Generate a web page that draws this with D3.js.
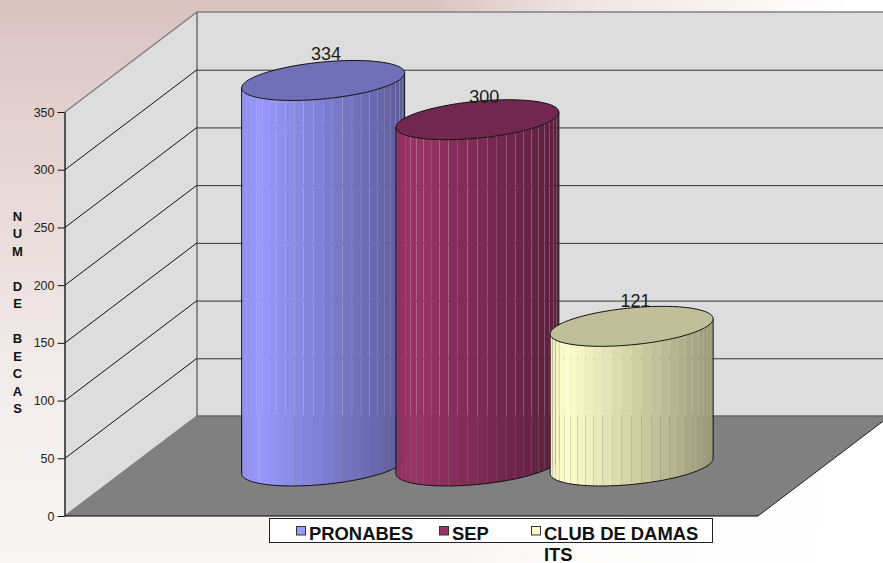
<!DOCTYPE html>
<html>
<head>
<meta charset="utf-8">
<script src="https://cdn.jsdelivr.net/npm/d3@7"></script>
<style>
  html, body { margin: 0; padding: 0; background: #fff; }
  svg { display: block; font-family: "Liberation Sans", Arial, sans-serif; }
</style>
</head>
<body>
<div id="chart"></div>
<script>
const categories = ["PRONABES", "SEP", "CLUB DE DAMAS"]
const values = [334, 300, 121]
const baseColors = ["#9999ff", "#993366", "#ffffcc"]
const topColors = ["#7070b8", "#72274f", "#bfbf99"]
const yTicks = [0, 50, 100, 150, 200, 250, 300, 350]
const axisLetters = ["N", "U", "M", "", "D", "E", "", "B", "E", "C", "A", "S"]
const bgColumn = [[0, "#d9c3c1"], [0.18, "#e1d0ce"], [0.36, "#e8dad9"], [0.71, "#f3eeed"], [1, "#f8f6f5"]]
const bgFade = [[0.485, 0], [0.638, 0.5], [0.797, 0.78], [0.963, 1]]

const width = 883
const height = 563
const depth = { x: 132, y: -100 }
const floorLeft = 65
const floorRight = 758
const radius = 81.5
const tiltK = 0.0926
const minorB = 18.5
const facets = 26
const labelNudge = [[3, -20], [7, -17], [4, -19]]

const svg = d3.select("#chart").append("svg")
  .attr("width", width)
  .attr("height", height)

const y = d3.scaleLinear().domain([0, 350]).range([516, 112])
const x = d3.scaleBand().domain(categories).range([180, 642.75])

// background
const defs = svg.append("defs")
const bgV = defs.append("linearGradient")
  .attr("id", "bg-v")
  .attr("x1", 0).attr("y1", 0).attr("x2", 0).attr("y2", 1)
bgColumn.forEach(s => bgV.append("stop").attr("offset", s[0]).attr("stop-color", s[1]))
const bgH = defs.append("linearGradient")
  .attr("id", "bg-h")
  .attr("x1", 0).attr("y1", 0).attr("x2", 1).attr("y2", 0)
bgFade.forEach(s => bgH.append("stop").attr("offset", s[0]).attr("stop-color", "#fff").attr("stop-opacity", s[1]))
svg.append("rect").attr("width", width).attr("height", height).attr("fill", "url(#bg-v)")
svg.append("rect").attr("width", width).attr("height", height).attr("fill", "url(#bg-h)")

// walls and floor
const line = d3.line()
const wall = svg.append("g")
const bx = floorLeft + depth.x

wall.append("path")
  .attr("d", line([[floorLeft, y(0)], [bx, y(0) + depth.y], [bx, y(350) + depth.y], [floorLeft, y(350)]]) + "Z")
  .attr("fill", "#dddddd")
  .attr("stroke", "#808080")
  .attr("stroke-width", 1.5)

wall.append("rect")
  .attr("x", bx).attr("y", y(350) + depth.y)
  .attr("width", width - bx).attr("height", y(0) - y(350))
  .attr("fill", "#dddddd")

wall.append("path")
  .attr("d", line([[floorLeft, y(0)], [bx, y(0) + depth.y], [floorRight + depth.x, y(0) + depth.y], [floorRight, y(0)]]) + "Z")
  .attr("fill", "#808080")

wall.append("path")
  .attr("d", line([[floorRight, y(0)], [floorRight + depth.x, y(0) + depth.y]]))
  .attr("stroke", "#222").attr("stroke-width", 1).attr("fill", "none")

wall.append("line")
  .attr("x1", floorLeft).attr("x2", floorRight)
  .attr("y1", y(0)).attr("y2", y(0))
  .attr("stroke", "#000").attr("stroke-width", 1.2)

wall.append("line")
  .attr("x1", bx).attr("x2", bx)
  .attr("y1", y(350) + depth.y).attr("y2", y(0) + depth.y)
  .attr("stroke", "#8a8a8a").attr("stroke-width", 2)

wall.append("line")
  .attr("x1", bx).attr("x2", width)
  .attr("y1", y(350) + depth.y).attr("y2", y(350) + depth.y)
  .attr("stroke", "#808080").attr("stroke-width", 1.5)

wall.append("line")
  .attr("x1", bx).attr("x2", width)
  .attr("y1", y(0) + depth.y).attr("y2", y(0) + depth.y)
  .attr("stroke", "#666").attr("stroke-width", 1.5)

const grid = yTicks.filter(d => d > 0 && d < 350)
grid.forEach(d => {
  wall.append("line")
    .attr("x1", floorLeft).attr("x2", bx)
    .attr("y1", y(d)).attr("y2", y(d) + depth.y)
    .attr("stroke", "#111").attr("stroke-width", 1)
  wall.append("line")
    .attr("x1", bx).attr("x2", width)
    .attr("y1", y(d) + depth.y + 0.5).attr("y2", y(d) + depth.y + 0.5)
    .attr("stroke", "#333").attr("stroke-width", 1)
})

// y axis
const axis = svg.append("g")
  .attr("transform", `translate(${floorLeft - 0.5},0)`)
  .call(d3.axisLeft(y).tickValues(yTicks).tickSize(7).tickSizeOuter(0).tickPadding(3))
axis.selectAll("text").attr("font-size", 12.5).attr("font-family", "Liberation Sans").attr("fill", "#222")
axis.selectAll("line").attr("stroke", "#111")
axis.select(".domain").attr("stroke", "#111")

svg.append("g").selectAll("text")
  .data(axisLetters)
  .join("text")
  .attr("x", 17.5)
  .attr("y", (d, i) => 221 + i * 17.45)
  .attr("text-anchor", "middle")
  .attr("font-size", 13)
  .attr("font-weight", "bold")
  .attr("fill", "#111")
  .text(d => d)

// cylinders
const baseY = y(0) + depth.y / 2
const ring = (cx, cy, t) => [
  cx + radius * Math.cos(t),
  cy + minorB * Math.sin(t) - tiltK * radius * Math.cos(t)
]
const shade = t => {
  const c = Math.cos(t)
  return c < -0.8 ? 1 - (-0.8 - c) * 0.35 : 1 - (c + 0.8) * 0.22
}

categories.forEach((name, i) => {
  const cx = x(name) + x.bandwidth() / 2 + depth.x / 2
  const top = baseY - (y(0) - y(values[i]))
  const g = svg.append("g").attr("class", "cylinder")

  d3.range(facets).forEach(k => {
    const t0 = Math.PI - k * Math.PI / facets
    const t1 = Math.PI - (k + 1) * Math.PI / facets
    const inset = 0.08 / radius
    const a = t0 - inset
    const b = t1 + inset
    const color = d3.rgb(baseColors[i])
    const s = shade((t0 + t1) / 2)
    g.append("path")
      .attr("d", line([ring(cx, top, a), ring(cx, top, b), ring(cx, baseY, b), ring(cx, baseY, a)]) + "Z")
      .attr("fill", d3.rgb(color.r * s, color.g * s, color.b * s).formatRgb())
  })

  const arc = d3.range(0, 61).map(k => ring(cx, baseY, Math.PI - k * Math.PI / 60))
  g.append("path")
    .attr("d", line([ring(cx, top, Math.PI), ...arc, ring(cx, top, 0)]))
    .attr("fill", "none")
    .attr("stroke", "#111")
    .attr("stroke-width", 1)

  const cap = d3.range(0, 121).map(k => ring(cx, top, k * 2 * Math.PI / 120))
  g.append("path")
    .attr("d", line(cap) + "Z")
    .attr("fill", topColors[i])
    .attr("stroke", "#111")
    .attr("stroke-width", 1)

  svg.append("text")
    .attr("class", "value")
    .attr("x", cx + labelNudge[i][0])
    .attr("y", top + labelNudge[i][1])
    .attr("text-anchor", "middle")
    .attr("font-size", 18)
    .attr("fill", "#1a1a1a")
    .text(values[i])
})
svg.selectAll("text.value").raise()

// legend
const legend = svg.append("g")
legend.append("rect")
  .attr("x", 269.5).attr("y", 518.5)
  .attr("width", 443).attr("height", 24)
  .attr("fill", "#fff").attr("stroke", "#222").attr("stroke-width", 1)

const legendX = [296, 439, 531]
categories.forEach((name, i) => {
  legend.append("rect")
    .attr("x", legendX[i] + 0.5).attr("y", 526.5)
    .attr("width", 9).attr("height", 8.5)
    .attr("fill", baseColors[i]).attr("stroke", "#333").attr("stroke-width", 1)
  legend.append("text")
    .attr("x", legendX[i] + 13)
    .attr("y", 540)
    .attr("font-size", 18.4)
    .attr("font-weight", "bold")
    .attr("fill", "#111")
    .text(name)
})
legend.append("text")
  .attr("x", legendX[2] + 13)
  .attr("y", 560.5)
  .attr("font-size", 18.4)
  .attr("font-weight", "bold")
  .attr("fill", "#111")
  .text("ITS")
</script>
</body>
</html>
